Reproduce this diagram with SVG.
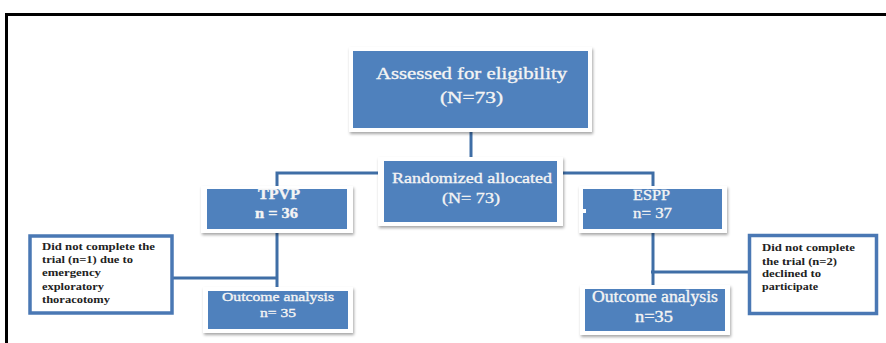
<svg xmlns="http://www.w3.org/2000/svg" width="886" height="343" viewBox="0 0 886 343">
<defs>
<filter id="sh" x="-10%" y="-10%" width="125%" height="135%">
<feDropShadow dx="1" dy="2" stdDeviation="1.5" flood-color="#000" flood-opacity="0.35"/>
</filter>
<style>
.frame{fill:#fff;filter:url(#sh)}
.box{fill:#4f81bd}
.t{font-family:"Liberation Serif","DejaVu Serif",serif;fill:#f4f4f4;stroke:#f4f4f4;stroke-width:0.35;text-anchor:middle}
.n{font-family:"Liberation Serif","DejaVu Serif",serif;fill:#222;font-weight:bold;font-size:10.5px}
.c{fill:none;stroke:#3f6ea6;stroke-width:3}
.note{fill:#fff;stroke:#4a78b4;stroke-width:3.5}
</style>
</defs>
<rect x="0" y="0" width="886" height="343" fill="#fff"/>
<rect x="6.5" y="14.5" width="900" height="400" fill="none" stroke="#000" stroke-width="3"/>

<g id="connectors">
<line class="c" x1="471" y1="128" x2="471" y2="158"/>
<polyline class="c" points="378,173 277,173 277,188"/>
<polyline class="c" points="563,173 653,173 653,188"/>
<line class="c" x1="277" y1="232" x2="277" y2="288"/>
<line class="c" x1="173" y1="278" x2="278" y2="278"/>
<line class="c" x1="653" y1="232" x2="653" y2="287"/>
<line class="c" x1="651" y1="272" x2="750" y2="272"/>
</g>

<g id="assessed">
<rect class="frame" x="349" y="47" width="243" height="85"/>
<rect class="box" x="353" y="51" width="235" height="77"/>
<text class="t" x="471.5" y="79" font-size="17" textLength="191" lengthAdjust="spacingAndGlyphs">Assessed for eligibility</text>
<text class="t" x="471.5" y="103" font-size="17" textLength="63" lengthAdjust="spacingAndGlyphs">(N=73)</text>
</g>

<g id="randomized">
<rect class="frame" x="378" y="157" width="185" height="69"/>
<rect class="box" x="384" y="161" width="173" height="61"/>
<text class="t" x="472" y="183" font-size="15.5" textLength="160" lengthAdjust="spacingAndGlyphs">Randomized allocated</text>
<text class="t" x="471" y="203" font-size="15.5" textLength="58" lengthAdjust="spacingAndGlyphs">(N= 73)</text>
</g>

<g id="tpvp">
<rect class="frame" x="201" y="186" width="152" height="47"/>
<rect class="box" x="207" y="189" width="140" height="40"/>
<text class="t" x="279" y="199" font-size="14" font-weight="bold" textLength="42" lengthAdjust="spacingAndGlyphs">TPVP</text>
<text class="t" x="276.5" y="218" font-size="14" font-weight="bold" textLength="43" lengthAdjust="spacingAndGlyphs">n = 36</text>
</g>

<g id="espp">
<rect class="frame" x="579" y="186" width="148" height="47"/>
<rect class="box" x="583" y="189" width="139" height="40"/>
<rect x="583" y="209" width="3" height="4" fill="#fff"/>
<text class="t" x="651.5" y="200" font-size="15" textLength="37" lengthAdjust="spacingAndGlyphs">ESPP</text>
<text class="t" x="652.5" y="218" font-size="15" textLength="39" lengthAdjust="spacingAndGlyphs">n= 37</text>
</g>

<g id="note-left">
<rect class="note" x="30" y="236" width="142" height="77"/>
<text class="n" x="42" y="250" textLength="113" lengthAdjust="spacingAndGlyphs">Did not complete the</text>
<text class="n" x="42" y="263" textLength="91" lengthAdjust="spacingAndGlyphs">trial (n=1) due to</text>
<text class="n" x="42" y="276" textLength="59" lengthAdjust="spacingAndGlyphs">emergency</text>
<text class="n" x="42" y="290" textLength="62" lengthAdjust="spacingAndGlyphs">exploratory</text>
<text class="n" x="42" y="303" textLength="68" lengthAdjust="spacingAndGlyphs">thoracotomy</text>
</g>

<g id="note-right">
<rect class="note" x="749.5" y="235.5" width="127" height="78"/>
<text class="n" x="762" y="251" textLength="93" lengthAdjust="spacingAndGlyphs">Did not complete</text>
<text class="n" x="762" y="265" textLength="75" lengthAdjust="spacingAndGlyphs">the trial (n=2)</text>
<text class="n" x="762" y="277" textLength="59" lengthAdjust="spacingAndGlyphs">declined to</text>
<text class="n" x="762" y="290" textLength="56" lengthAdjust="spacingAndGlyphs">participate</text>
</g>

<g id="outcome-left">
<rect class="frame" x="203" y="287" width="150" height="46"/>
<rect class="box" x="208" y="291" width="140" height="38"/>
<text class="t" x="278" y="301" font-size="13.5" textLength="112" lengthAdjust="spacingAndGlyphs">Outcome analysis</text>
<text class="t" x="278" y="317" font-size="13.5" textLength="36" lengthAdjust="spacingAndGlyphs">n= 35</text>
</g>

<g id="outcome-right">
<rect class="frame" x="580" y="285" width="150" height="50"/>
<rect class="box" x="585" y="289" width="140" height="42"/>
<text class="t" x="655" y="302" font-size="16" textLength="126" lengthAdjust="spacingAndGlyphs">Outcome analysis</text>
<text class="t" x="654" y="322" font-size="16" textLength="38" lengthAdjust="spacingAndGlyphs">n=35</text>
</g>
</svg>
